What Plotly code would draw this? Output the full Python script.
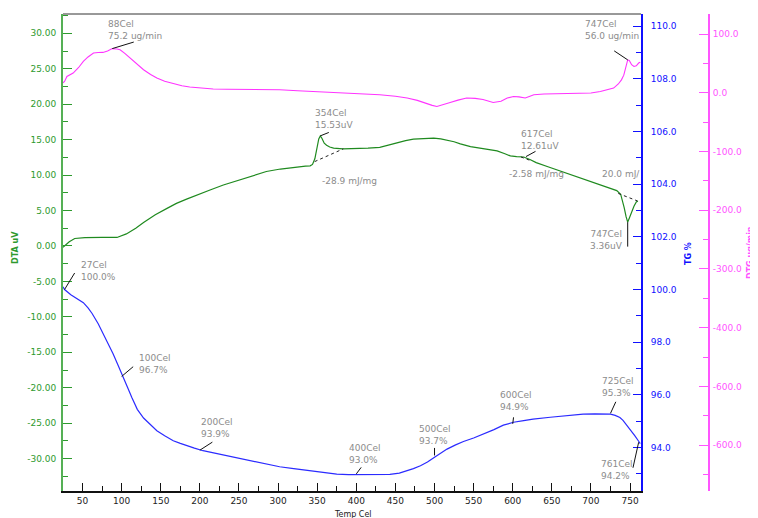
import plotly.graph_objects as go

# ---------------- data ----------------
dta_T = [25, 28, 33, 40, 53, 75, 94, 106, 118, 128, 143, 158, 170, 183, 198, 213, 230, 247, 265, 285,
         303, 320, 335, 341, 344, 347, 350, 352, 354, 356, 359, 362, 366, 371, 383, 400, 415, 430, 442,
         452, 463, 473, 486, 499, 508, 516, 525, 533, 546, 558, 570, 580, 590, 597, 605, 614, 622, 630,
         645, 660, 680, 700, 712, 725, 733, 738, 740, 742.5, 745, 747, 749, 752, 755, 758, 760]
dta_val = [-0.2, 0.1, 0.6, 1.05, 1.18, 1.2, 1.2, 1.7, 2.5, 3.3, 4.4, 5.3, 6.0, 6.6, 7.3, 7.9, 8.6, 9.2,
           9.85, 10.5, 10.85, 11.1, 11.25, 11.3, 11.5, 12.3, 14.0, 15.1, 15.53, 15.2, 14.5, 14.2, 13.95,
           13.8, 13.7, 13.7, 13.8, 13.9, 14.2, 14.55, 14.85, 15.06, 15.15, 15.2, 15.1, 14.95, 14.7, 14.4,
           14.0, 13.8, 13.6, 13.4, 13.0, 12.7, 12.6, 12.55, 12.2, 11.75, 11.17, 10.6, 9.82, 9.05, 8.6,
           8.1, 7.8, 7.3, 6.6, 5.4, 4.1, 3.36, 3.9, 4.8, 5.6, 6.2, 6.35]

tg_T = [25, 27, 35, 43, 51, 57, 62, 70, 77, 83, 89, 95, 102, 108, 113, 120, 128, 136, 145, 155, 166,
        175, 183, 193, 204, 220, 243, 260, 277, 302, 320, 341, 360, 375, 390, 401, 420, 443, 455, 465,
        473, 482, 491, 501, 509, 516, 527, 537, 550, 563, 576, 588, 595, 601, 614, 626, 648, 669, 690,
        705, 718, 725, 731, 737, 741, 746, 751, 756, 761, 763]
tg_val = [100.1, 100.0, 99.8, 99.65, 99.5, 99.3, 99.1, 98.7, 98.3, 97.95, 97.56, 97.15, 96.7, 96.25,
          95.9, 95.45, 95.12, 94.88, 94.64, 94.45, 94.26, 94.16, 94.07, 93.98, 93.88, 93.78, 93.62,
          93.52, 93.43, 93.27, 93.2, 93.12, 93.05, 92.99, 92.97, 92.97, 92.96, 92.98, 93.03, 93.12,
          93.2, 93.31, 93.45, 93.65, 93.82, 93.94, 94.1, 94.23, 94.36, 94.51, 94.68, 94.85, 94.92,
          94.96, 95.02, 95.08, 95.15, 95.21, 95.27, 95.28, 95.28, 95.27, 95.22, 95.14, 95.03, 94.85,
          94.65, 94.45, 94.24, 94.15]

dtg_T = [25, 27, 30, 34, 38, 45, 51, 57, 64, 70, 76, 82, 88, 94, 98, 104, 111, 118, 128, 137, 145,
         155, 166, 177, 187, 200, 217, 235, 251, 275, 302, 325, 345, 370, 400, 430, 450, 465, 478,
         490, 497, 503, 510, 520, 530, 541, 552, 562, 575, 585, 593, 601, 608, 616, 622, 627, 640,
         660, 680, 700, 712, 720, 729, 735, 739, 742, 745, 747, 749, 752, 755, 758, 761, 763]
dtg_val = [17, 19.3, 27.8, 31, 33.6, 43, 53.3, 61, 67.6, 68.5, 68.7, 71, 75.2, 74.5, 73.3, 67, 59,
           50, 39.2, 31, 25, 19.5, 15.3, 12, 9.7, 8, 6.3, 6.0, 6.0, 5.6, 5.1, 3.5, 2.2, 0.5, -1.5,
           -3.4, -6, -9, -13, -18.7, -21.5, -23.3, -21, -16.5, -12.5, -9, -9.5, -11.5, -16.5, -14.5,
           -9, -6.3, -7, -9, -6, -3.4, -2, -1.5, -1, -0.5, 2.2, 4.5, 8, 15, 22, 30, 47.7, 56.0, 55,
           47.7, 44.8, 46, 50.6, 52]

# dashed peak baselines (DTA units)
base_T = [[346.8, 383.4], [610.5, 621.5], [735, 759.5]]
base_val = [[11.9, 13.7], [12.55, 12.1], [7.4, 6.35]]

# labelled points: temperature, value, axis, label
ann_T = [88, 747, 354, 617, 747, 27, 100, 200, 400, 500, 600, 725, 761]
ann_val = [75.2, 56.0, 15.53, 12.61, 3.36, 100.0, 96.7, 93.9, 93.0, 93.7, 94.9, 95.3, 94.2]
ann_axis = ['y3', 'y3', 'y', 'y', 'y', 'y2', 'y2', 'y2', 'y2', 'y2', 'y2', 'y2', 'y2']
ann_text = ['88Cel<br>75.2 ug/min', '747Cel<br>56.0 ug/min', '354Cel<br>15.53uV', '617Cel<br>12.61uV',
            '747Cel<br>3.36uV', '27Cel<br>100.0%', '100Cel<br>96.7%', '200Cel<br>93.9%',
            '400Cel<br>93.0%', '500Cel<br>93.7%', '600Cel<br>94.9%', '725Cel<br>95.3%', '761Cel<br>94.2%']
# leader offsets (px) and text offsets (px)
ann_lead = [(23, -7), (-15, -10), (10, -4), (11, -6), (0, 26), (11, -18), (13, -11), (14, -9),
            (6, -8), (0, -9), (1, -8), (6, -13), (-6, 27)]
ann_shift = [(-6, 19), (-45, 30), (-7, 17), (-7, 17), (-3, -18), (14, 19), (15, 12), (-1, 22),
             (-9, 20), (-18, 20), (-15, 23), (-11, 26), (-40, -28)]
ann_xanchor = ['left'] * 4 + ['right'] + ['left'] * 8

enth_T = [391, 631, 711.7]
enth_val = [9.15, 10.1, 10.1]
enth_text = ['-28.9 mJ/mg', '-2.58 mJ/mg', '20.0 mJ/']
enth_xanchor = ['center', 'center', 'left']

dta_ticks = [30, 25, 20, 15, 10, 5, 0, -5, -10, -15, -20, -25, -30]
dta_ticktext = ['30.00', '25.00', '20.00', '15.00', '10.00', '5.00', '0.00', '-5.00', '-10.00',
                '-15.00', '-20.00', '-25.00', '-30.00']
tg_ticks = [110, 108, 106, 104, 102, 100, 98, 96, 94]
tg_ticktext = ['110.0', '108.0', '106.0', '104.0', '102.0', '100.0', '98.0', '96.0', '94.0']
dtg_ticks = [100, 0, -100, -200, -300, -400, -500, -600]
dtg_ticktext = ['100.0', '0.0', '-100.0', '-200.0', '-300.0', '-400.0', '-600.0', '-600.0']

# ---------------- layout geometry ----------------
# the page body has an 8px margin, so the figure is drawn 8px smaller and offset
OFF = 8
W, H = 758 - OFF, 518 - OFF
ML, MT = 63 - OFF, 14 - OFF
MB = H - (491 - OFF)
MR = W - (709 - OFF)
PW, PH = W - ML - MR, H - MT - MB
XEND = (641 - 63) / PW

GREEN_LINE = '#1f8a1f'
GREEN_AX = '#55b055'
GREEN_TXT = '#2e9a2e'
BLUE = '#2b2bff'
BLUE_AX = '#1010ff'
MAG = '#ff33ff'
MAG_AX = '#ff55ff'
GRAY = '#8c8c8c'
FONT = 'DejaVu Sans'

fig = go.Figure()
fig.add_trace(go.Scatter(x=dtg_T, y=dtg_val, yaxis='y3', mode='lines',
                         line=dict(color=MAG, width=1.1), hoverinfo='skip'))
fig.add_trace(go.Scatter(x=dta_T, y=dta_val, yaxis='y', mode='lines',
                         line=dict(color=GREEN_LINE, width=1.2), hoverinfo='skip'))
for bx, bv in zip(base_T, base_val):
    fig.add_trace(go.Scatter(x=bx, y=bv, yaxis='y', mode='lines',
                             line=dict(color='#222222', width=1, dash='3px,3px'), hoverinfo='skip'))
fig.add_trace(go.Scatter(x=tg_T, y=tg_val, yaxis='y2', mode='lines',
                         line=dict(color=BLUE, width=1.2), hoverinfo='skip'))


def minor_vals(lo, hi, step):
    n0 = int(lo // step) - 1
    n1 = int(hi // step) + 2
    return [k * step for k in range(n0, n1)]


fig.update_layout(
    width=W, height=H,
    margin=dict(l=ML, r=MR, t=MT, b=MB, pad=0, autoexpand=False),
    paper_bgcolor='white', plot_bgcolor='white',
    showlegend=False,
    font=dict(family=FONT, size=9, color='#222'),
    xaxis=dict(domain=[0, XEND], range=[25, 764], showgrid=False, zeroline=False,
               showline=True, linecolor='#111', linewidth=2,
               ticks='inside', ticklen=8, tickcolor='#111', tickwidth=1,
               tickmode='linear', tick0=0, dtick=50,
               minor=dict(ticks='inside', ticklen=5, tickcolor='#111', tickmode='linear', tick0=0, dtick=25),
               tickfont=dict(size=9, color='#222', family=FONT), anchor='y', automargin=False),
    yaxis=dict(range=[-34.57, 32.72], showgrid=False, zeroline=False,
               showline=True, linecolor=GREEN_AX, linewidth=2,
               ticks='inside', ticklen=9, tickcolor=GREEN_TXT, tickwidth=1,
               tickmode='array', tickvals=dta_ticks, ticktext=dta_ticktext,
               minor=dict(ticks='inside', ticklen=5, tickcolor=GREEN_TXT, tickmode='array',
                          tickvals=minor_vals(-34.57, 32.72, 2.5)),
               tickfont=dict(size=9, color=GREEN_TXT, family=FONT), ticklabelstandoff=3,
               automargin=False),
    yaxis2=dict(range=[92.35, 110.46], overlaying='y', side='right', anchor='x',
                showgrid=False, zeroline=False, showline=True, linecolor=BLUE_AX, linewidth=2,
                ticks='inside', ticklen=8, tickcolor=BLUE_AX, tickwidth=1,
                tickmode='array', tickvals=tg_ticks, ticktext=tg_ticktext,
                minor=dict(ticks='inside', ticklen=5, tickcolor=BLUE_AX, tickmode='array',
                           tickvals=minor_vals(92.35, 110.46, 1)),
                tickfont=dict(size=9, color=BLUE_AX, family=FONT), ticklabelstandoff=6,
                automargin=False),
    yaxis3=dict(range=[-678, 134.1], overlaying='y', side='right', anchor='free', position=1.0,
                showgrid=False, zeroline=False, showline=True, linecolor=MAG_AX, linewidth=2,
                ticks='inside', ticklen=9, tickcolor=MAG_AX, tickwidth=1,
                tickmode='array', tickvals=dtg_ticks, ticktext=dtg_ticktext,
                minor=dict(ticks='inside', ticklen=5, tickcolor=MAG_AX, tickmode='array',
                           tickvals=minor_vals(-678, 134.1, 50)),
                tickfont=dict(size=9, color=MAG_AX, family=FONT), ticklabelstandoff=1,
                automargin=False),
)

fig.add_shape(type='line', xref='paper', yref='paper', x0=0, x1=XEND, y0=1, y1=1,
              line=dict(color='#333333', width=1))

anns = []
for T, v, ax, txt, (lx, ly), (sx, sy), xa in zip(ann_T, ann_val, ann_axis, ann_text,
                                                  ann_lead, ann_shift, ann_xanchor):
    anns.append(dict(x=T, y=v, xref='x', yref=ax, text='', showarrow=True, arrowhead=0,
                     arrowwidth=1, arrowcolor='#111', ax=lx, ay=ly, standoff=0, startstandoff=0))
    anns.append(dict(x=T, y=v, xref='x', yref=ax, text=txt, showarrow=False, xanchor=xa,
                     yanchor='middle', xshift=sx, yshift=sy, align=xa,
                     font=dict(size=9, color=GRAY, family=FONT)))
for T, v, txt, xa in zip(enth_T, enth_val, enth_text, enth_xanchor):
    anns.append(dict(x=T, y=v, xref='x', yref='y', text=txt, showarrow=False, xanchor=xa,
                     yanchor='middle', font=dict(size=9, color=GRAY, family=FONT)))


def pxx(xp):
    # page pixel -> paper fraction
    return (xp - OFF - ML) / PW


def pyy(yp):
    return (H - MB - (yp - OFF)) / PH


anns.append(dict(x=pxx(15), y=pyy(248), xref='paper', yref='paper', text='<b>DTA uV</b>',
                 xanchor='center', yanchor='middle',
                 textangle=-90, showarrow=False, font=dict(size=8, color=GREEN_TXT, family=FONT)))
anns.append(dict(x=pxx(688), y=pyy(254), xref='paper', yref='paper', text='<b>TG %</b>',
                 xanchor='center', yanchor='middle',
                 textangle=-90, showarrow=False, font=dict(size=8, color=BLUE_AX, family=FONT)))
anns.append(dict(x=pxx(751), y=pyy(253), xref='paper', yref='paper', text='<b>DTG ug/min</b>',
                 xanchor='center', yanchor='middle',
                 textangle=-90, showarrow=False, font=dict(size=8, color=MAG_AX, family=FONT)))
anns.append(dict(x=pxx(353), y=pyy(514), xref='paper', yref='paper', text='Temp Cel',
                 xanchor='center', yanchor='middle',
                 showarrow=False, font=dict(size=8, color='#222', family=FONT)))
fig.update_layout(annotations=anns)

fig.write_html('out.html')
